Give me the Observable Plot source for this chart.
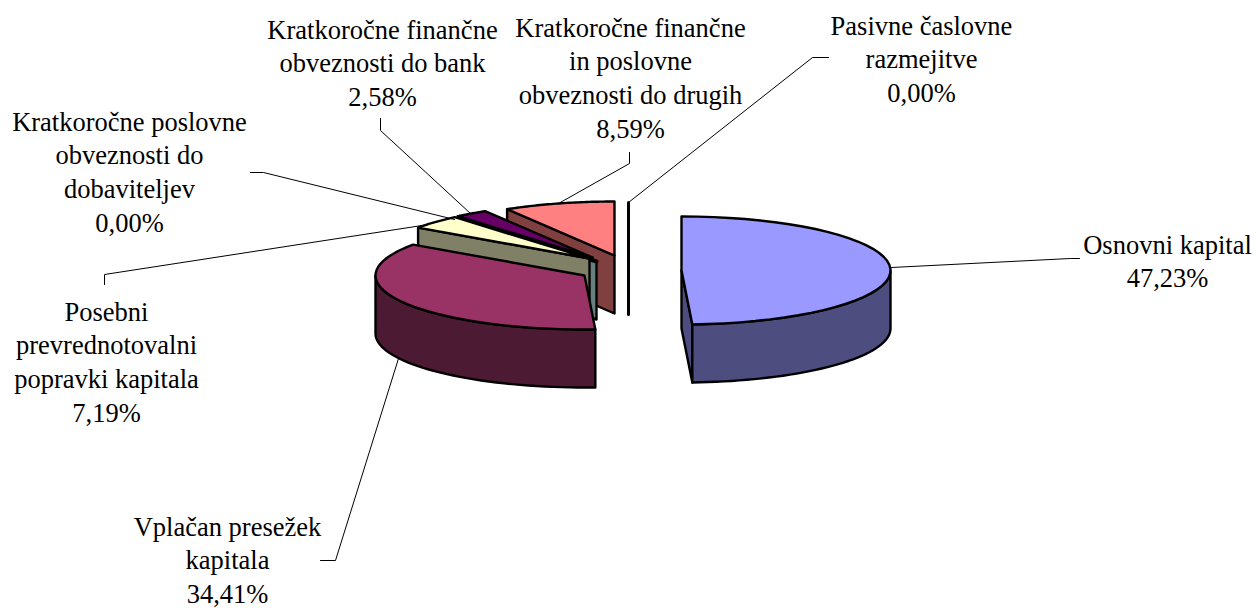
<!DOCTYPE html>
<html><head><meta charset="utf-8">
<script src="https://cdn.jsdelivr.net/npm/d3@7"></script>
<script src="https://cdn.jsdelivr.net/npm/@observablehq/plot@0.6"></script>
<style>html,body{margin:0;background:#fff}svg{display:block}</style>
</head><body><div id="chart"></div>
<script>
const categories = ["Osnovni kapital","Vplačan presežek kapitala","Posebni prevrednotovalni popravki kapitala","Kratkoročne poslovne obveznosti do dobaviteljev","Kratkoročne finančne obveznosti do bank","Kratkoročne finančne in poslovne obveznosti do drugih","Pasivne časlovne razmejitve"];
const values = [47.23,34.41,7.19,0,2.58,8.59,0];
const valueLabels = ["47,23%","34,41%","7,19%","0,00%","2,58%","8,59%","0,00%"];
const labelLines = [
 "Osnovni kapital",
 "Vplačan presežek\nkapitala",
 "Posebni\nprevrednotovalni\npopravki kapitala",
 "Kratkoročne poslovne\nobveznosti do\ndobaviteljev",
 "Kratkoročne finančne\nobveznosti do bank",
 "Kratkoročne finančne\nin poslovne\nobveznosti do drugih",
 "Pasivne časlovne\nrazmejitve"
];
const topColors = ["#9999FF","#993366","#FFFFCC","#CCFFFF","#660066","#FF8080","#0066CC"];
const wallColors = ["#4D4D80","#4D1A33","#808066","#668080","#330033","#804040","#003366"];

// layout of the exploded 3-D pie
const rx = 209, ry = 54, depth = 58;
const centers = [[681,270],[584,275],[589,258],[596,261],[592,257],[614,255],[628,256]];
const labelPos = [[1167,229],[227,511],[106,296],[129,106],[382,14],[630,12],[921,10]];
const leaders = [
 [[891,267],[1070,258],[1079,258]],
 [[398,358],[335,560],[320,560]],
 [[428,224],[104,274],[104,284]],
 [[250,172],[263,172],[454,219]],
 [[380,118],[380,130],[470,213]],
 [[629,152],[629,163],[558,203]],
 [[828,57],[812,57],[628,202]]
];
const warp = d3.scaleLinear().domain([0,170,294,320,360]).range([0,177,305,320,360]);

const arcs = d3.pie().sort(null).value(d=>d)(values);
const rimPt = (i,a,dz=0)=>{const r=a*Math.PI/180;return {x:centers[i][0]+rx*Math.sin(r),y:centers[i][1]-ry*Math.cos(r)+dz};};
const deg = r=>r*180/Math.PI;
const rim = (i,a,b,dz=0)=>d3.range(0,41).map(k=>rimPt(i,a+(b-a)*k/40,dz));
const apex = (i,dz=0)=>({x:centers[i][0],y:centers[i][1]+dz});
const span = i=>[warp(deg(arcs[i].startAngle)),warp(deg(arcs[i].endAngle))];

const sw = 2.4;
const poly = (pts,fill)=>Plot.line(pts,{x:"x",y:"y",fill,stroke:"#000",strokeWidth:sw,curve:"linear-closed",strokeLinejoin:"round"});
const top3 = i=>{const [a,b]=span(i);return poly([apex(i),...rim(i,a,b)],topColors[i]);};
const face = (i,a)=>poly([apex(i),rimPt(i,a),rimPt(i,a,depth),apex(i,depth)],wallColors[i]);
const outer = (i,a,b)=>poly([...rim(i,a,b),...rim(i,b,a,depth)],wallColors[i]);

const marks = [];
// zero slice at the back, seen edge-on
marks.push(Plot.line([rimPt(6,360),apex(6),apex(6,depth)],{x:"x",y:"y",stroke:"#000",strokeWidth:3}));
// pink
marks.push(face(5,span(5)[0]),top3(5));
// purple
marks.push(face(4,span(4)[0]),top3(4));
// zero slice 4
marks.push(face(3,span(3)[0]));
marks.push(Plot.line([apex(3),rimPt(3,span(3)[0])],{x:"x",y:"y",stroke:"#000",strokeWidth:4}));
// cream
marks.push(face(2,span(2)[0]),top3(2));
// maroon
marks.push(outer(1,span(1)[0],270),top3(1));
// blue
marks.push(face(0,span(0)[1]),outer(0,90,span(0)[1]),top3(0));
// leaders
leaders.forEach(l=>marks.push(Plot.line(l.map(p=>({x:p[0],y:p[1]})),{x:"x",y:"y",stroke:"#000",strokeWidth:1})));
// labels
const table = categories.map((c,i)=>({name:c,text:labelLines[i]+"\n"+valueLabels[i],x:labelPos[i][0],y:labelPos[i][1]}));
marks.push(Plot.text(table,{x:"x",y:"y",text:"text",lineAnchor:"top",textAnchor:"middle",lineHeight:33.8/26.5,fontSize:26.5,fontFamily:"Liberation Serif",fill:"#000"}));

const chart = Plot.plot({width:1256,height:608,margin:0,
  x:{axis:null,domain:[0,1256],range:[0,1256]},
  y:{axis:null,domain:[0,608],range:[0,608]},
  marks});
document.getElementById("chart").append(chart);
</script></body></html>
